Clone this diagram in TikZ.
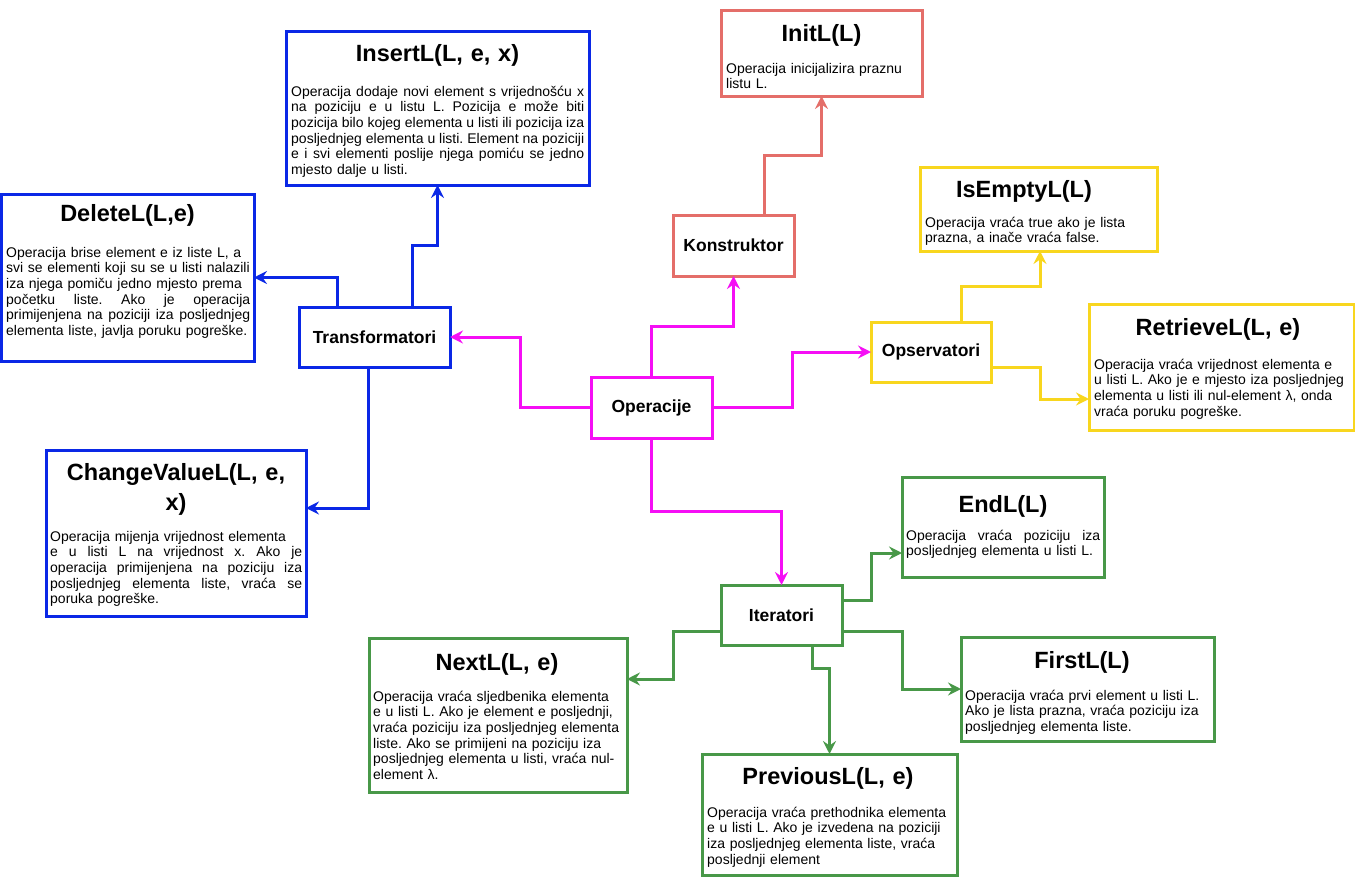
\documentclass[tikz,border=0pt]{standalone}
\usepackage{fontspec}
\setmainfont{Liberation Sans}
\usetikzlibrary{arrows.meta}
\definecolor{cmag}{RGB}{245,15,245}
\definecolor{cblue}{RGB}{10,40,230}
\definecolor{cred}{RGB}{228,110,105}
\definecolor{cyel}{RGB}{248,214,30}
\definecolor{cgrn}{RGB}{72,152,72}
\newcommand\J[1]{\leavevmode\hbox to\hsize{\spaceskip=0pt\xspaceskip=0pt #1}}
\frenchspacing
\begin{document}
\begin{tikzpicture}[x=1pt,y=-1pt,
 bx/.style={draw=#1, line width=3pt, fill=white, anchor=north west, inner sep=0pt, outer sep=0pt},
 lbl/.style={bx=#1, font=\fontsize{17.5}{20}\selectfont\bfseries},
 ttl/.style={font=\fontsize{23.5}{30}\selectfont\bfseries, anchor=base, align=center, inner sep=0pt},
 body/.style={font=\fontsize{14}{15.7}\selectfont\frenchspacing, anchor=base west, inner sep=0pt},
 conn/.style={draw=#1, line width=3pt, -{Stealth[length=13pt,width=13pt,inset=4.5pt]}},
]
\useasboundingbox (0,0) rectangle (1355,878);

% ---------- boxes ----------
\node[bx=cred, minimum width=201pt, minimum height=86pt] (init) at (721,10) {};
\node[lbl=cred, minimum width=121pt, minimum height=61pt] (konst) at (673,215) {Konstruktor};
\node[bx=cblue, minimum width=303pt, minimum height=154pt] (insert) at (286,31) {};
\node[bx=cblue, minimum width=253pt, minimum height=167pt] (delete) at (1,194) {};
\node[lbl=cblue, minimum width=151pt, minimum height=60pt] (trans) at (299,307) {Transformatori};
\node[bx=cblue, minimum width=260pt, minimum height=166pt] (change) at (46,450) {};
\node[bx=cyel, minimum width=237pt, minimum height=84pt] (isempty) at (920,167) {};
\node[lbl=cyel, minimum width=120pt, minimum height=60pt] (opserv) at (871,322) {Opservatori};
\node[bx=cyel, minimum width=265pt, minimum height=126pt] (retrieve) at (1089,304) {};
\node[lbl=cmag, minimum width=121pt, minimum height=61pt] (oper) at (591,377) {Operacije};
\node[lbl=cgrn, minimum width=121pt, minimum height=60pt] (iter) at (721,585) {Iteratori};
\node[bx=cgrn, minimum width=202pt, minimum height=100pt] (endl) at (902,477) {};
\node[bx=cgrn, minimum width=253pt, minimum height=104pt] (first) at (961,637) {};
\node[bx=cgrn, minimum width=258pt, minimum height=154pt] (next) at (369,638) {};
\node[bx=cgrn, minimum width=255pt, minimum height=121pt] (prev) at (702,754) {};

% ---------- titles ----------
\node[ttl, text width=200pt] (initT) at (821.5,41) {InitL(L)};
\node[ttl, text width=300pt] (insertT) at (437.5,61) {InsertL(L, e, x)};
\node[ttl, text width=250pt] (deleteT) at (127.5,221) {DeleteL(L,e)};
\node[ttl, text width=256pt] (changeT) at (176,480) {ChangeValueL(L, e,\\ x)};
\node[ttl, text width=230pt] (isemptyT) at (1024,197) {IsEmptyL(L)};
\node[ttl, text width=260pt] (retrieveT) at (1218,335) {RetrieveL(L, e)};
\node[ttl, text width=200pt] (endlT) at (1003,512) {EndL(L)};
\node[ttl, text width=250pt] (nextT) at (497,670) {NextL(L, e)};
\node[ttl, text width=250pt] (firstT) at (1082,668) {FirstL(L)};
\node[ttl, text width=250pt] (prevT) at (828,784) {PreviousL(L, e)};

% ---------- bodies ----------
\node[body, text width=192pt] (initB) at (726,73) {Operacija inicijalizira praznu\\ listu L.};
\node[body, text width=293pt] (insertB) at (291,96) {\J{Operacija dodaje novi element s vrijednošću x}\\ \J{na poziciju e u listu L. Pozicija e može biti}\\ \J{pozicija bilo kojeg elementa u listi ili pozicija iza}\\ \J{posljednjeg elementa u listi. Element na poziciji}\\ \J{e i svi elementi poslije njega pomiću se jedno}\\ mjesto dalje u listi.};
\node[body, text width=244pt] (deleteB) at (6,257) {Operacija brise element e iz liste L, a\\ svi se elementi koji su se u listi nalazili\\ iza njega pomiču jedno mjesto prema\\ \J{početku liste. Ako je operacija}\\ \J{primijenjena na poziciji iza posljednjeg}\\ elementa liste, javlja poruku pogreške.};
\node[body, text width=252pt] (changeB) at (50,541) {Operacija mijenja vrijednost elementa\\ \J{e u listi L na vrijednost x. Ako je}\\ \J{operacija primijenjena na poziciju iza}\\ \J{posljednjeg elementa liste, vraća se}\\ poruka pogreške.};
\node[body, text width=228pt] (isemptyB) at (925,227) {Operacija vraća true ako je lista\\ prazna, a inače vraća false.};
\node[body, text width=258pt] (retrieveB) at (1094,369) {Operacija vraća vrijednost elementa e\\ u listi L. Ako je e mjesto iza posljednjeg\\ elementa u listi ili nul-element λ, onda\\ vraća poruku pogreške.};
\node[body, text width=194pt] (endlB) at (906,540) {\J{Operacija vraća poziciju iza}\\ posljednjeg elementa u listi L.};
\node[body, text width=250pt] (nextB) at (373,701) {Operacija vraća sljedbenika elementa\\ e u listi L. Ako je element e posljednji,\\ vraća poziciju iza posljednjeg elementa\\ liste. Ako se primijeni na poziciju iza\\ posljednjeg elementa u listi, vraća nul-\\ element λ.};
\node[body, text width=245pt] (firstB) at (965,700) {Operacija vraća prvi element u listi L.\\ Ako je lista prazna, vraća poziciju iza\\ posljednjeg elementa liste.};
\node[body, text width=246pt] (prevB) at (707,817) {Operacija vraća prethodnika elementa\\ e u listi L. Ako je izvedena na poziciji\\ iza posljednjeg elementa liste, vraća\\ posljednji element};

% ---------- connectors ----------
\draw[conn=cmag] (oper.west) -| (520,337) -- (trans.east);
\draw[conn=cmag] (oper.north) -- (oper.north |- 0,326) -| (konst.south);
\draw[conn=cmag] (oper.east) -| (792,352) -- (opserv.west);
\draw[conn=cmag] (oper.south) -- (oper.south |- 0,511) -| (iter.north);

\draw[conn=cred] (konst.north -| 764,0) -- (764,155) -| (init.south);

\draw[conn=cblue] (trans.north -| 412,0) -- (412,245) -| (insert.south);
\draw[conn=cblue] (trans.north -| 337,0) |- (delete.east);
\draw[conn=cblue] (trans.south -| 368,0) -- (368,508) -- (change.east |- 0,508);

\draw[conn=cyel] (opserv.north -| 961,0) -- (961,286) -| (isempty.south -| 1040,0);
\draw[conn=cyel] (opserv.east |- 0,367) -| (1040,399) -- (retrieve.west |- 0,399);

\draw[conn=cgrn] (iter.east |- 0,600) -| (871,553) -- (endl.west |- 0,553);
\draw[conn=cgrn] (iter.east |- 0,631) -| (902,689) -- (first.west);
\draw[conn=cgrn] (iter.west |- 0,631) -| (673,679) -- (next.east |- 0,679);
\draw[conn=cgrn] (iter.south -| 812,0) -- (812,668) -| (prev.north);
\end{tikzpicture}
\end{document}
